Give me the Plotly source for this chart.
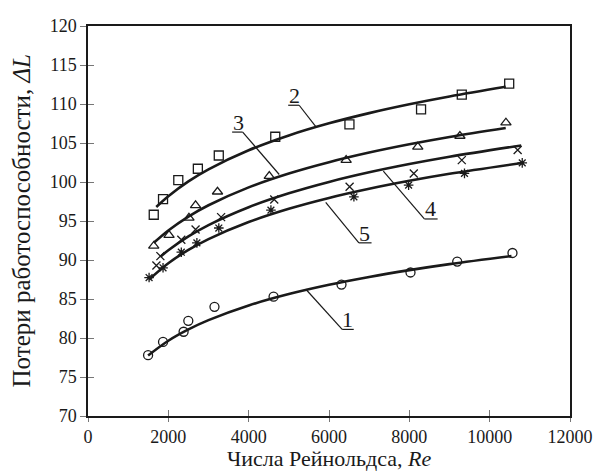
import plotly.graph_objects as go

# ---- data ----
# measured points
s1_x = [1496, 1868, 2380, 2497, 3149, 4620, 6311, 8029, 9192, 10568]
s1_y = [77.8, 79.5, 80.8, 82.2, 84.0, 85.3, 86.85, 88.4, 89.8, 90.9]

s2_x = [1637, 1868, 2248, 2735, 3256, 4662, 6509, 8292, 9306, 10486]
s2_y = [95.8, 97.8, 100.25, 101.7, 103.4, 105.8, 107.4, 109.3, 111.2, 112.6]

s3_x = [1637, 2017, 2513, 2678, 3224, 4513, 6427, 8210, 9259, 10405]
s3_y = [91.8, 93.2, 95.4, 97.0, 98.75, 100.75, 102.8, 104.5, 105.9, 107.6]

s4_x = [1703, 1802, 2323, 2678, 3314, 4637, 6513, 8111, 9306, 10697]
s4_y = [89.3, 90.5, 92.6, 93.9, 95.5, 97.75, 99.4, 101.1, 102.8, 104.1]

s5_x = [1521, 1868, 2323, 2711, 3257, 4554, 6620, 7982, 9373, 10811]
s5_y = [87.75, 89.0, 91.0, 92.2, 94.1, 96.4, 98.1, 99.6, 101.1, 102.45]

# fitted curves
c1_x = [1496, 2000, 2500, 3000, 4000, 5000, 6000, 7000, 8000, 9000, 10543]
c1_y = [77.75, 79.65, 81.1, 82.29, 84.17, 85.63, 86.82, 87.83, 88.7, 89.47, 90.5]

c2_x = [1700, 2000, 2500, 3000, 4000, 5000, 6000, 7000, 8000, 9000, 10400]
c2_y = [96.8, 98.18, 100.08, 101.63, 104.07, 105.97, 107.52, 108.83, 109.96, 110.96, 112.2]

c3_x = [1637, 2000, 2500, 3000, 4000, 5000, 6000, 7000, 8000, 9000, 10400]
c3_y = [92.2, 93.79, 95.57, 97.02, 99.31, 101.09, 102.54, 103.77, 104.83, 105.77, 106.92]

c4_x = [1800, 2000, 2500, 3000, 4000, 5000, 6000, 7000, 8000, 9000, 10786]
c4_y = [90.4, 91.24, 93.02, 94.48, 96.77, 98.55, 100.01, 101.24, 102.3, 103.24, 104.69]

c5_x = [1521, 2000, 2500, 3000, 4000, 5000, 6000, 7000, 8000, 9000, 10811]
c5_y = [87.5, 89.59, 91.29, 92.68, 94.87, 96.57, 97.96, 99.13, 100.15, 101.05, 102.44]

x_ticks = [0, 2000, 4000, 6000, 8000, 10000, 12000]
x_tick_labels = ["0", "2000", "4000", "6000", "8000", "10000", "12000"]
y_ticks = [70, 75, 80, 85, 90, 95, 100, 105, 110, 115, 120]
y_tick_labels = [str(v) for v in y_ticks]

x_title = "Числа Рейнольдса, <i>Re</i>"
y_title = "Потери работоспособности, <i>ΔL</i>"

curve_labels = ["1", "2", "3", "4", "5"]
# label text position, underline (x0, x1, y), leader end point
label_text_pos = [(6452, 82.35), (5132, 111.1), (3752, 107.6), (8538, 96.6), (6893, 93.46)]
label_underline = [(6328, 6616, 81.1), (4984, 5257, 109.84), (3588, 3851, 106.4),
                   (8374, 8704, 95.26), (6744, 7059, 92.2)]
label_leader = [((6328, 81.1), (5423, 86.25)), ((5257, 109.84), (5686, 107.0)),
                ((3851, 106.4), (4761, 100.96)), ((8374, 95.26), (7352, 101.4)),
                ((6744, 92.2), (5918, 97.4))]

FONT = "Liberation Serif"
BLACK = "#1a1a1a"

fig = go.Figure()

curves = [(c1_x, c1_y), (c2_x, c2_y), (c3_x, c3_y), (c4_x, c4_y), (c5_x, c5_y)]
for cx, cy in curves:
    fig.add_trace(go.Scatter(x=cx, y=cy, mode="lines", line=dict(color=BLACK, width=2.6, shape="spline"),
                             showlegend=False, hoverinfo="skip"))

series = [
    (s1_x, s1_y, "circle-open", 9),
    (s2_x, s2_y, "square-open", 9),
    (s3_x, s3_y, "triangle-up-open", 9),
    (s4_x, s4_y, "x-thin-open", 8),
    (s5_x, s5_y, "asterisk-open", 8),
]
for sx, sy, sym, sz in series:
    fig.add_trace(go.Scatter(x=sx, y=sy, mode="markers",
                             marker=dict(symbol=sym, size=sz, color=BLACK,
                                         line=dict(color=BLACK, width=1.3)),
                             showlegend=False))

# invisible trace to activate overlay axes (for crossing ticks)
fig.add_trace(go.Scatter(x=[None], y=[None], xaxis="x2", yaxis="y2", showlegend=False, hoverinfo="skip"))

for i, lab in enumerate(curve_labels):
    tx, ty = label_text_pos[i]
    fig.add_annotation(x=tx, y=ty, text=lab, showarrow=False,
                       font=dict(family=FONT, size=22, color=BLACK))
    ux0, ux1, uy = label_underline[i]
    fig.add_shape(type="line", x0=ux0, x1=ux1, y0=uy, y1=uy, line=dict(color=BLACK, width=1.2))
    (lx0, ly0), (lx1, ly1) = label_leader[i]
    fig.add_shape(type="line", x0=lx0, y0=ly0, x1=lx1, y1=ly1, line=dict(color=BLACK, width=1.2))

# axis titles
fig.add_annotation(xref="paper", yref="paper", x=0.5, y=-0.143, text=x_title, showarrow=False,
                   xanchor="center", yanchor="bottom", borderpad=0,
                   font=dict(family=FONT, size=22, color=BLACK))
fig.add_annotation(xref="paper", yref="paper", x=-0.138, y=0.5, text=y_title, showarrow=False,
                   textangle=-90, xanchor="center", yanchor="middle",
                   font=dict(family=FONT, size=25, color=BLACK))

axis_common = dict(showgrid=False, zeroline=False, color=BLACK)
fig.update_layout(
    width=593, height=466,
    margin=dict(l=80, r=29, t=8, b=58),
    plot_bgcolor="white", paper_bgcolor="white",
    font=dict(family=FONT, size=18, color=BLACK),
    xaxis=dict(range=[0, 12000], tickvals=x_ticks, ticktext=x_tick_labels, ticks="outside",
               ticklen=4, tickwidth=1, tickcolor="#777", showline=True, linecolor=BLACK,
               linewidth=1.5, mirror=True, tickfont=dict(family=FONT, size=18), **axis_common),
    yaxis=dict(range=[70, 120], tickvals=y_ticks, ticktext=y_tick_labels, ticks="outside",
               ticklen=6, tickwidth=1, tickcolor="#777", showline=True, linecolor=BLACK,
               linewidth=1.5, mirror=True, tickfont=dict(family=FONT, size=18), **axis_common),
    xaxis2=dict(range=[0, 12000], overlaying="x", anchor="y2", side="bottom", tickvals=x_ticks,
                ticks="inside", ticklen=6, tickwidth=1, tickcolor="#777", showticklabels=False,
                showline=False, **axis_common),
    yaxis2=dict(range=[70, 120], overlaying="y", anchor="x2", side="left", tickvals=y_ticks,
                ticks="inside", ticklen=6, tickwidth=1, tickcolor="#777", showticklabels=False,
                showline=False, **axis_common),
)

fig.write_html("out.html")
